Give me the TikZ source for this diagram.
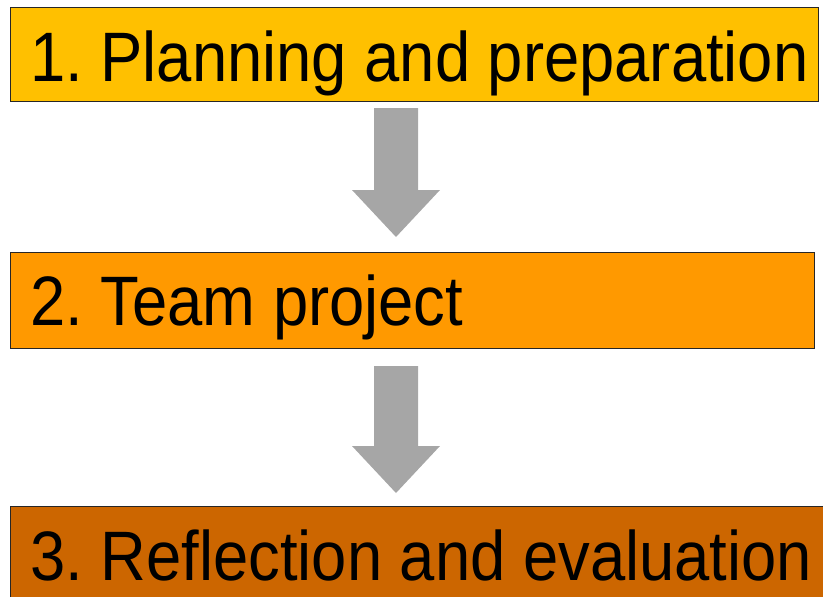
\documentclass[tikz,border=0pt]{standalone}
\usepackage{fontspec}
\setmainfont{Liberation Sans}
\begin{document}
\frenchspacing
\begin{tikzpicture}[x=1pt,y=1pt,
  box/.style={draw=black!85, line width=1pt, anchor=north west, inner sep=0pt},
  lbl/.style={anchor=base west, inner sep=0pt, font=\fontsize{70}{80}\selectfont},
  blockarrow/.style={fill=black!35, draw=none}]
\definecolor{cone}{HTML}{FFC000}
\definecolor{ctwo}{HTML}{FF9900}
\definecolor{cthree}{HTML}{CC6600}
\useasboundingbox (0,0) rectangle (823,-597);
\clip (0,0) rectangle (823,-597);
\node[box, fill=cone, minimum width=808pt, minimum height=94pt] (b1) at (10,-7) {};
\node[box, fill=ctwo, minimum width=804pt, minimum height=96pt] (b2) at (10,-252) {};
\node[box, fill=cthree, minimum width=830pt, minimum height=110pt] (b3) at (10,-506) {};
\node[lbl] (t1) at (30,-81) {\scalebox{0.905}[1]{1. Planning and preparation}};
\node[lbl] (t2) at (30,-325) {\scalebox{0.905}[1]{2. Team project}};
\node[lbl] (t3) at (30,-580) {\scalebox{0.905}[1]{3. Reflection and evaluation}};
\coordinate (a1s) at (396,-108);
\coordinate (a1e) at (396,-237);
\coordinate (a2s) at (396,-366);
\coordinate (a2e) at (396,-493);
\foreach \s/\e in {a1s/a1e, a2s/a2e}{
  \fill[blockarrow] ([xshift=-22pt]\s) -- ([xshift=22pt]\s) -- ([xshift=22pt,yshift=47pt]\e) -- ([xshift=44pt,yshift=47pt]\e) -- (\e) -- ([xshift=-44pt,yshift=47pt]\e) -- ([xshift=-22pt,yshift=47pt]\e) -- cycle;
}
\end{tikzpicture}
\end{document}
